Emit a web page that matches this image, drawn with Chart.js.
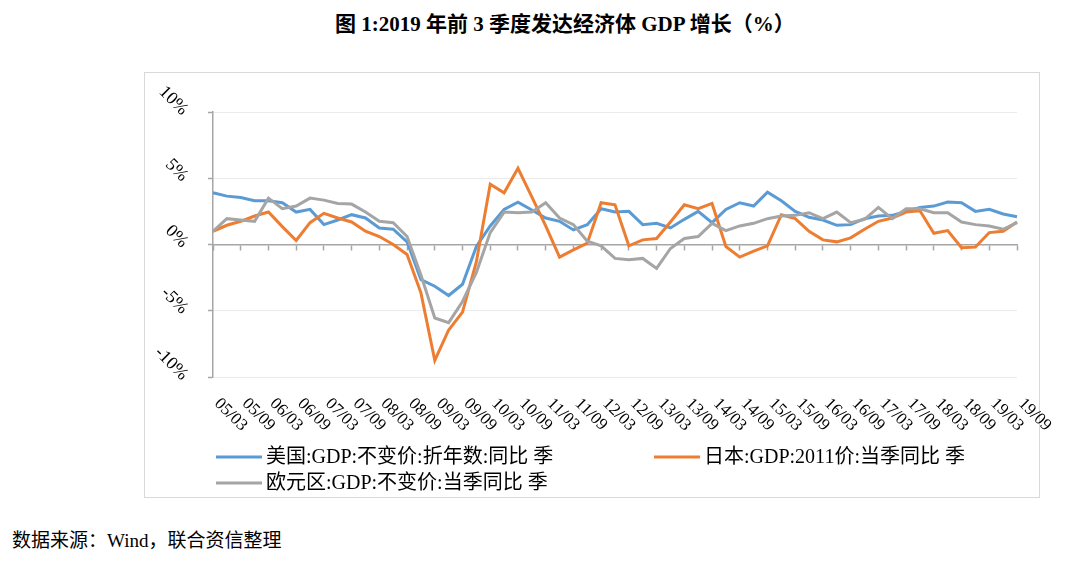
<!DOCTYPE html>
<html>
<head>
<meta charset="utf-8">
<script src="https://cdn.jsdelivr.net/npm/chart.js@4"></script>
<style>
  body { margin: 0; background: #fff; width: 1080px; height: 561px; position: relative;
         font-family: "Liberation Serif", "Noto Sans CJK SC", serif; color: #000; }
  #title { position: absolute; left: 335px; top: 14px; font-size: 21px; line-height: 21px; font-weight: 600; white-space: nowrap; }
  #box { position: absolute; left: 144px; top: 72px; width: 894px; height: 424px; border: 1px solid #d9d9d9; }
  #chart { position: absolute; left: 145px; top: 73px; }
  #source { position: absolute; left: 12px; top: 531px; font-size: 19px; line-height: 19px; white-space: nowrap; }
</style>
</head>
<body>
<div id="title">图 1:2019 年前 3 季度发达经济体 GDP 增长（%）</div>
<div id="box"></div>
<canvas id="chart" width="930" height="424"></canvas>
<div id="source">数据来源：Wind，联合资信整理</div>
<script>
// quarters 2005Q1 .. 2019Q3
const quarters = [
  "05/03", "05/06", "05/09", "05/12", "06/03", "06/06", "06/09", "06/12",
  "07/03", "07/06", "07/09", "07/12", "08/03", "08/06", "08/09", "08/12",
  "09/03", "09/06", "09/09", "09/12", "10/03", "10/06", "10/09", "10/12",
  "11/03", "11/06", "11/09", "11/12", "12/03", "12/06", "12/09", "12/12",
  "13/03", "13/06", "13/09", "13/12", "14/03", "14/06", "14/09", "14/12",
  "15/03", "15/06", "15/09", "15/12", "16/03", "16/06", "16/09", "16/12",
  "17/03", "17/06", "17/09", "17/12", "18/03", "18/06", "18/09", "18/12",
  "19/03", "19/06", "19/09"
];

const usGdp = [3.9, 3.65, 3.55, 3.3, 3.3, 3.15, 2.45, 2.65, 1.5, 1.85, 2.25, 2.0, 1.25, 1.15, 0.2,
  -2.65, -3.15, -3.85, -3.0, -0.15, 1.4, 2.65, 3.2, 2.6, 2.0, 1.75, 1.1, 1.5, 2.7, 2.45, 2.5,
  1.5, 1.6, 1.25, 1.9, 2.5, 1.65, 2.65, 3.15, 2.9, 3.95, 3.3, 2.5, 2.05, 1.85, 1.45, 1.5, 1.95,
  2.15, 2.2, 2.5, 2.8, 2.9, 3.2, 3.15, 2.5, 2.65, 2.3, 2.1];

const japanGdp = [1.0, 1.45, 1.75, 2.15, 2.45, 1.35, 0.3, 1.65, 2.35, 2.0, 1.7, 1.0, 0.6, 0.0, -0.75,
  -3.65, -8.75, -6.45, -5.1, -1.3, 4.55, 3.9, 5.75, 3.6, 1.4, -0.95, -0.4, 0.1, 3.15, 3.0, -0.1,
  0.35, 0.45, 1.7, 3.0, 2.7, 3.1, -0.15, -0.95, -0.5, -0.1, 2.25, 1.95, 1.0, 0.35, 0.2, 0.5, 1.15,
  1.75, 2.0, 2.45, 2.55, 0.85, 1.05, -0.25, -0.2, 0.9, 1.0, 1.7];

const euroGdp = [1.0, 1.95, 1.85, 1.75, 3.5, 2.7, 2.9, 3.5, 3.35, 3.1, 3.05, 2.45, 1.75, 1.65, 0.6,
  -2.3, -5.55, -5.9, -4.3, -2.1, 0.9, 2.45, 2.4, 2.45, 3.15, 2.0, 1.5, 0.25, -0.1, -1.05, -1.15,
  -1.05, -1.8, -0.3, 0.45, 0.6, 1.6, 1.05, 1.4, 1.6, 1.95, 2.15, 2.2, 2.4, 1.95, 2.45, 1.65, 1.9,
  2.8, 1.95, 2.7, 2.7, 2.4, 2.4, 1.7, 1.5, 1.4, 1.15, 1.65];

const seriesNames = ["美国:GDP:不变价:折年数:同比 季", "日本:GDP:2011价:当季同比 季", "欧元区:GDP:不变价:当季同比 季"];
const seriesColors = ["#5B9BD5", "#ED7D31", "#A5A5A5"];
const yTicks = [10, 5, 0, -5, -10];

const axisGray = "#a6a6a6";
const labelFont = '"Liberation Serif", "Noto Sans CJK SC", serif';

// slanted tick labels + excel style legend, all placed from the scales
const slantLabels = {
  id: "slantLabels",
  afterDraw(chart) {
    const ctx = chart.ctx;
    const area = chart.chartArea;
    const x = chart.scales.x;
    const y = chart.scales.y;
    ctx.save();
    ctx.fillStyle = "#000";

    ctx.font = "18px " + labelFont;
    ctx.textAlign = "right";
    ctx.textBaseline = "middle";
    yTicks.forEach(function (v) {
      ctx.save();
      ctx.translate(area.left - 28, y.getPixelForValue(v) + 0.5);
      ctx.rotate(Math.PI / 4);
      ctx.fillText(v + "%", 0, 0);
      ctx.restore();
    });

    ctx.font = "17px " + labelFont;
    ctx.textAlign = "left";
    quarters.forEach(function (q, i) {
      if (i % 2) return;
      ctx.save();
      ctx.translate(x.getPixelForValue(i) + 4, area.bottom + 24);
      ctx.rotate(Math.PI / 4);
      ctx.fillText(q, 0, 0);
      ctx.restore();
    });

    // legend: two columns, third item wraps under the first
    const cols = [area.left + 3, area.left + 441, area.left + 3];
    const rows = [area.bottom + 80, area.bottom + 80, area.bottom + 106];
    ctx.font = "20px " + labelFont;
    chart.data.datasets.forEach(function (ds, i) {
      ctx.strokeStyle = ds.borderColor;
      ctx.lineWidth = 3;
      ctx.beginPath();
      ctx.moveTo(cols[i], rows[i]);
      ctx.lineTo(cols[i] + 46, rows[i]);
      ctx.stroke();
      ctx.fillText(ds.label, cols[i] + 50, rows[i] + 1);
    });
    ctx.restore();
  },
};

const ctx = document.getElementById("chart").getContext("2d");

function makeDataset(i, values) {
  return {
    label: seriesNames[i],
    data: values,
    borderColor: seriesColors[i],
    backgroundColor: seriesColors[i],
    borderWidth: 3,
    pointRadius: 0,
    tension: 0,
    fill: false,
    order: 3 - i,
  };
}

const chart = new Chart(ctx, {
  type: "line",
  data: {
    labels: quarters,
    datasets: [makeDataset(0, usGdp), makeDataset(1, japanGdp), makeDataset(2, euroGdp)],
  },
  options: {
    responsive: false,
    animation: false,
    layout: { padding: { left: 68, top: 39, right: 58, bottom: 120 } },
    plugins: { legend: { display: false }, tooltip: { enabled: false } },
    scales: {
      x: {
        type: "category",
        position: { y: 0 },
        ticks: { display: false },
        grid: {
          drawOnChartArea: false,
          drawTicks: true,
          tickLength: 5,
          tickWidth: 1.5,
          tickColor: function (c) {
            return c.index % 2 ? "rgba(0,0,0,0)" : axisGray;
          },
        },
        border: { display: true, color: axisGray, width: 1.5 },
      },
      y: {
        min: -10,
        max: 10,
        ticks: { display: false, stepSize: 5 },
        afterFit: function (s) {
          s.width = 0;
        },
        grid: {
          color: function (c) {
            return c.tick && c.tick.value === 0 ? "rgba(0,0,0,0)" : "#ebebeb";
          },
          tickColor: axisGray,
          tickLength: 5,
          tickWidth: 1.5,
        },
        border: { display: true, color: axisGray, width: 1.5 },
      },
    },
  },
  plugins: [slantLabels],
});
</script>
</body>
</html>
